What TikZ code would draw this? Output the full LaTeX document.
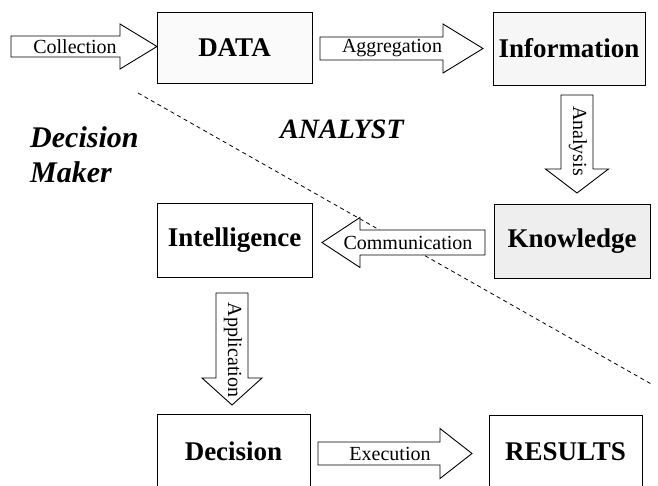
\documentclass[tikz,border=0pt]{standalone}
\usepackage{fontspec}
\setmainfont{Liberation Serif}
\newcommand\myharrow[6]{% tail x, head base x, tip x, centre y, shaft half, head half
  \draw[blockarrow] ({#1},{#4-#5}) -- ({#2},{#4-#5}) -- ({#2},{#4-#6}) -- ({#3},{#4})
    -- ({#2},{#4+#6}) -- ({#2},{#4+#5}) -- ({#1},{#4+#5}) -- cycle;}
\newcommand\myvarrow[6]{% centre x, tail y, head base y, tip y, shaft half, head half
  \draw[blockarrow] ({#1-#5},{#2}) -- ({#1-#5},{#3}) -- ({#1-#6},{#3}) -- ({#1},{#4})
    -- ({#1+#6},{#3}) -- ({#1+#5},{#3}) -- ({#1+#5},{#2}) -- cycle;}
\begin{document}
\begin{tikzpicture}[x=1pt,y=-1pt,
  box/.style={draw=black, line width=0.9pt, rectangle, inner sep=0pt,
    font=\fontsize{27}{30}\selectfont\bfseries},
  blockarrow/.style={draw=black, line width=0.9pt, fill=white, line join=miter},
  lab/.style={inner sep=0pt, font=\fontsize{20}{23}\selectfont},
  role/.style={inner sep=0pt, anchor=base west, font=\bfseries\itshape}]
\useasboundingbox (0,0) rectangle (658,485);
\clip (0,0) rectangle (658,485);
% dashed divider
\coordinate (d1) at (138,93);
\coordinate (d2) at (653,385);
\draw[line width=0.8pt, dash pattern=on 4pt off 3.5pt] (d1) -- (d2);
% boxes
\node[box, fill=gray!4, minimum width=155pt, minimum height=71pt] (data) at (234.5,47.5) {DATA};
\node[box, fill=gray!7, minimum width=152pt, minimum height=73pt] (info) at (569,48.5) {Information};
\node[box, fill=gray!13, minimum width=156pt, minimum height=74pt] (know) at (572,241) {Knowledge};
\node[box, fill=white, minimum width=155pt, minimum height=74pt] (intel) at (234.5,240) {Intelligence};
\node[box, fill=white, minimum width=153pt, minimum height=74pt] (dec) at (233.5,451) {Decision};
\node[box, fill=white, minimum width=153pt, minimum height=74pt] (res) at (565.5,452) {RESULTS};
% block arrows
\myharrow{11}{120}{157}{46.5}{10.5}{22.5}
\myharrow{320}{443}{483}{48.5}{11.5}{24.5}
\myvarrow{577}{95}{169}{193}{16}{31.5}
\myharrow{485}{360}{322}{242.5}{12.5}{25}
\myvarrow{232}{293}{378}{405}{16}{30}
\myharrow{318}{440}{472}{453.5}{11.5}{25}
% arrow labels
\node[lab] (lcol) at (75,46.5) {Collection};
\node[lab] (lagg) at (392,48.5) {Aggregation};
\node[lab, rotate=-90] (lana) at (578,141) {Analysis};
\node[lab] (lcom) at (408,242.5) {Communication};
\node[lab, rotate=-90] (lapp) at (233,350) {Application};
\node[lab] (lexe) at (390,453.5) {Execution};
% role texts
\node[role, font=\fontsize{30}{35}\selectfont\bfseries\itshape] (dm1) at (30,147) {Decision};
\node[role, font=\fontsize{30}{35}\selectfont\bfseries\itshape] (dm2) at (30,182) {Maker};
\node[role, font=\fontsize{28}{32}\selectfont\bfseries\itshape] (ana) at (280,138) {ANALYST};
\end{tikzpicture}
\end{document}
